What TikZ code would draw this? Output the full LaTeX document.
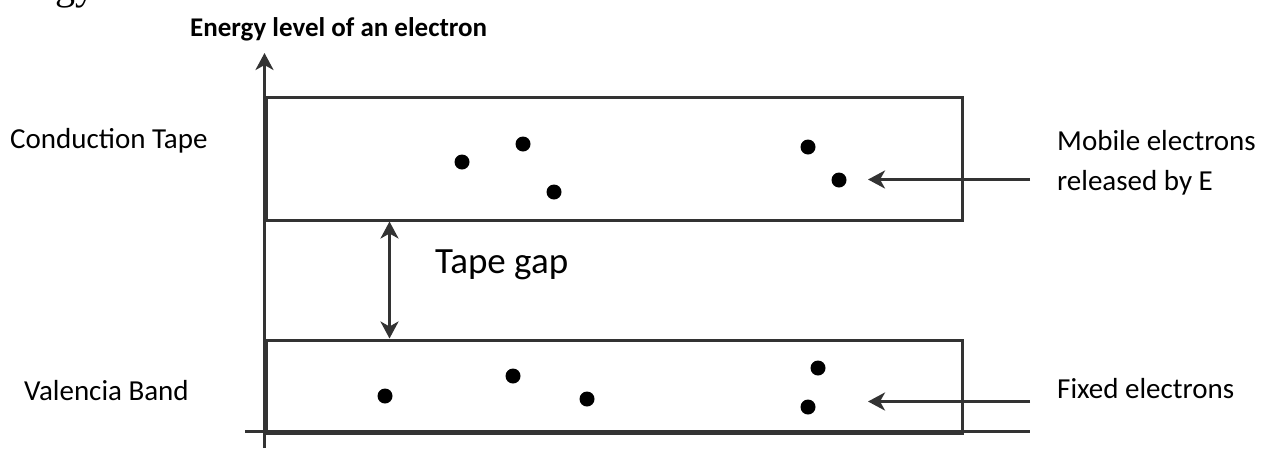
\documentclass[tikz,border=0pt]{standalone}
\usepackage{fontspec}
\setmainfont{Carlito}
\newfontfamily\headserif{Liberation Serif}
\usetikzlibrary{arrows.meta}

\begin{document}
\begin{tikzpicture}[x=1pt, y=-1pt,
  thickline/.style={draw=black!80, line width=3pt},
  tip/.style={-{Stealth[length=17pt, width=18pt, inset=5pt]}},
  lbl/.style={inner sep=0pt, anchor=base west, font=\fontsize{29}{35}\selectfont}]

\useasboundingbox (0,0) rectangle (1268,448);

% heading of the page, only its descenders stay on the page
\node[lbl, font=\headserif\fontsize{40}{48}\selectfont] (head) at (-20,-0.5) {Energy};

% energy axis and the baseline
\coordinate (ybot) at (264.5,448);
\coordinate (ytop) at (264.5,53);
\coordinate (xl) at (245,431.5);
\coordinate (xr) at (1030,431.5);
\draw[thickline, tip] (ybot) -- (ytop);
\draw[thickline] (xl) -- (xr);

% the two bands
\node[thickline, minimum width=696pt, minimum height=123pt, anchor=north west] (cond) at (264.5,95.5) {};
\node[thickline, minimum width=696pt, minimum height=93pt, anchor=north west] (val) at (264.5,338.5) {};

% gap between them
\coordinate (gapx) at (389.5,0);
\draw[thickline, {Stealth[length=17pt, width=18pt, inset=5pt]}-{Stealth[length=17pt, width=18pt, inset=5pt]}]
  (cond.south -| gapx) -- (val.north -| gapx);

% electrons
\foreach \p in {(462,162),(523,144),(554,192),(808,147),(839,180),
                (385,396),(513,376),(587,399),(818,368),(808,407)}
  \fill \p circle (7.5pt);

% labels
\node[lbl, font=\bfseries\fontsize{27}{32}\selectfont] (title) at (190,36) {Energy level of an electron};
\node[lbl] (condlbl) at (10,148) {Conduction Tape};
\node[lbl] (vallbl) at (24,400) {Valencia Band};
\node[lbl, font=\fontsize{37}{44}\selectfont] (gaplbl) at (435,273) {Tape gap};
\node[lbl] (mobone) at (1057,150) {Mobile electrons};
\node[lbl] (mobtwo) at ([yshift=-40pt]mobone.base west) {released by E};
\node[lbl] (fixlbl) at (1057,398) {Fixed electrons};

% pointers from the right
\coordinate (mobtail) at (1030,179.5);
\coordinate (mobhead) at (868,179.5);
\coordinate (fixtail) at (1030,401.5);
\coordinate (fixhead) at (868,401.5);
\draw[thickline, tip] (mobtail) -- (mobhead);
\draw[thickline, tip] (fixtail) -- (fixhead);

\end{tikzpicture}
\end{document}
